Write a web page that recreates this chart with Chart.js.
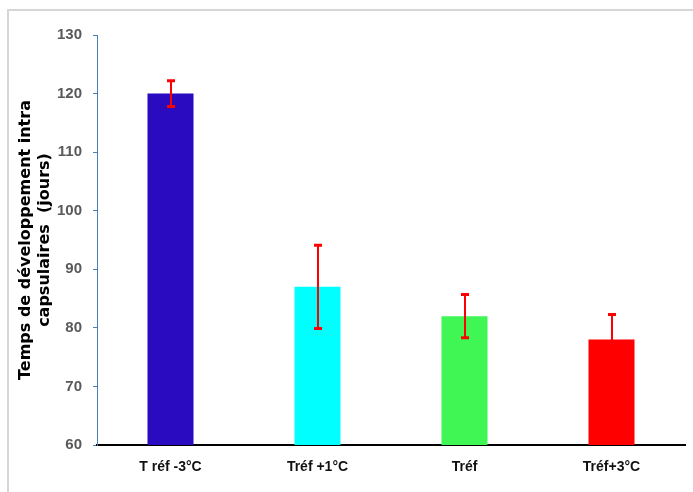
<!DOCTYPE html>
<html>
<head>
<meta charset="utf-8">
<script src="https://cdn.jsdelivr.net/npm/chart.js@4/dist/chart.umd.min.js"></script>
<style>
  html, body { margin: 0; padding: 0; background: #fff; }
  #frame { position: absolute; left: 7px; top: 9px; width: 700px; height: 500px; border-left: 2px solid #d6d6d6; border-top: 2px solid #d6d6d6; }
  #wrap { position: absolute; left: 0; top: 0; width: 693px; height: 492px; }
</style>
</head>
<body>
<div id="frame"></div>
<div id="wrap"><canvas id="chart" width="693" height="492"></canvas></div>
<script>
const categories = ["T réf -3°C", "Tréf +1°C", "Tréf", "Tréf+3°C"];
const dureeJours = [120, 87, 82, 78];
const ecartType = [2.2, 7.1, 3.7, 4.3];
const barColors = ["#2b0bbf", "#00ffff", "#3ff655", "#ff0000"];
const yTitle = ["Temps de développement intra", "capsulaires  (jours)"];

const TICK_FONT = "'Liberation Sans', Arial, sans-serif";

// barres d'erreur (moyenne ± écart-type)
const errorBars = {
  id: "errorBars",
  afterDatasetsDraw(chart) {
    const { ctx, scales } = chart;
    const meta = chart.getDatasetMeta(0);
    ctx.save();
    ctx.strokeStyle = "#ff0000";
    meta.data.forEach((bar, i) => {
      const x = Math.round(bar.x);
      const yHi = scales.y.getPixelForValue(dureeJours[i] + ecartType[i]);
      const yLo = scales.y.getPixelForValue(dureeJours[i] - ecartType[i]);
      ctx.lineWidth = 2;
      ctx.beginPath();
      ctx.moveTo(x, yHi);
      ctx.lineTo(x, yLo);
      ctx.stroke();
      ctx.lineWidth = 3;
      ctx.beginPath();
      ctx.moveTo(x - 4, yHi);
      ctx.lineTo(x + 4, yHi);
      ctx.moveTo(x - 4, yLo);
      ctx.lineTo(x + 4, yLo);
      ctx.stroke();
    });
    ctx.restore();
  },
};

new Chart(document.getElementById("chart"), {
  type: "bar",
  data: {
    labels: categories,
    datasets: [{ data: dureeJours, backgroundColor: barColors, barPercentage: 0.313, categoryPercentage: 1 }],
  },
  options: {
    responsive: false,
    animation: false,
    layout: { padding: { left: 0, top: 35, right: 8, bottom: 0 } },
    plugins: { legend: { display: false }, tooltip: { enabled: false } },
    scales: {
      x: {
        grid: { display: false },
        border: { color: "#000", width: 2 },
        ticks: { color: "#111", padding: 6, font: { family: TICK_FONT, weight: "bold", size: 14 } },
        afterFit: (s) => { s.height = 47; },
      },
      y: {
        min: 60,
        max: 130,
        ticks: { stepSize: 10, color: "#595959", padding: 11, font: { family: TICK_FONT, weight: "bold", size: 15 } },
        grid: { drawOnChartArea: false, drawTicks: true, tickLength: 4, color: "#4a7ebb" },
        border: { color: "#4a7ebb", width: 1 },
        title: {
          display: true,
          text: yTitle,
          color: "#000",
          padding: { top: 17, bottom: 0 },
          font: { family: "'DejaVu Sans', Verdana, sans-serif", weight: "bold", size: 16, lineHeight: 1.15 },
        },
        afterFit: (s) => { s.width = 97; },
      },
    },
  },
  plugins: [errorBars],
});
</script>
</body>
</html>
